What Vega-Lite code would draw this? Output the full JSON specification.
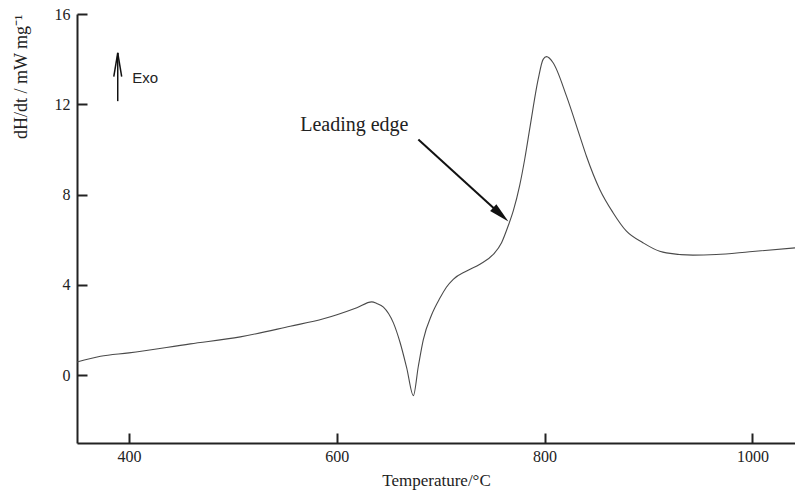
{
  "$schema": "https://vega.github.io/schema/vega-lite/v6.json",
  "width": 718,
  "height": 429,
  "autosize": {"type": "none"},
  "padding": {"left": 77, "top": 14, "right": 0, "bottom": 47},
  "background": "white",
  "config": {
    "view": {"stroke": null},
    "axis": {
      "grid": false,
      "domainColor": "#222",
      "domainWidth": 2,
      "tickColor": "#222",
      "tickWidth": 2,
      "tickSize": -10,
      "labelFont": "Liberation Serif",
      "labelFontSize": 16,
      "labelColor": "#222",
      "titleFont": "Liberation Serif",
      "titleFontSize": 17,
      "titleFontWeight": "normal",
      "titleColor": "#222"
    }
  },
  "datasets": {
    "curve": [
      {"T": 350, "v": 0.59}, {"T": 372.6, "v": 0.84}, {"T": 400, "v": 0.99},
      {"T": 459.1, "v": 1.39}, {"T": 507.2, "v": 1.70}, {"T": 555.2, "v": 2.17},
      {"T": 587.2, "v": 2.50}, {"T": 619.3, "v": 2.99}, {"T": 633.7, "v": 3.25},
      {"T": 638.5, "v": 3.18}, {"T": 644.9, "v": 3.02}, {"T": 654.5, "v": 2.32},
      {"T": 661.0, "v": 1.44}, {"T": 667.3, "v": 0.33}, {"T": 673.7, "v": -0.90},
      {"T": 678.5, "v": 0.40}, {"T": 683.3, "v": 1.58}, {"T": 691.4, "v": 2.69},
      {"T": 699.3, "v": 3.42}, {"T": 705.5, "v": 3.90}, {"T": 712.1, "v": 4.25},
      {"T": 725.0, "v": 4.62}, {"T": 737.8, "v": 4.92}, {"T": 750.6, "v": 5.35},
      {"T": 758.6, "v": 5.87}, {"T": 765.0, "v": 6.62}, {"T": 770.0, "v": 7.30},
      {"T": 776.0, "v": 8.40}, {"T": 781.0, "v": 9.60}, {"T": 786.0, "v": 11.00},
      {"T": 793.8, "v": 13.10}, {"T": 798.6, "v": 13.99},
      {"T": 801.9, "v": 14.11}, {"T": 808.2, "v": 13.84}, {"T": 821.1, "v": 12.36},
      {"T": 833.9, "v": 10.59}, {"T": 840.3, "v": 9.70},
      {"T": 853.1, "v": 8.23}, {"T": 865.9, "v": 7.20}, {"T": 878.8, "v": 6.38},
      {"T": 894.7, "v": 5.87}, {"T": 910.8, "v": 5.49}, {"T": 917.2, "v": 5.42},
      {"T": 942.8, "v": 5.32}, {"T": 965.3, "v": 5.35}, {"T": 997.3, "v": 5.47},
      {"T": 1041, "v": 5.64}
    ],
    "segments": [
      {"T": 389.2, "v": 12.14, "T2": 389.2, "v2": 14.28, "w": 1.5},
      {"T": 385.4, "v": 13.23, "T2": 389.2, "v2": 14.28, "w": 1.5},
      {"T": 393.0, "v": 13.23, "T2": 389.2, "v2": 14.28, "w": 1.5},
      {"T": 678.5, "v": 10.44, "T2": 757.0, "v2": 7.15, "w": 2}
    ],
    "heads": [{"T": 757.9, "v": 7.12}],
    "labelsSans": [{"T": 403.1, "v": 12.96, "label": "Exo"}],
    "labelsSerif": [{"T": 564.8, "v": 10.81, "label": "Leading edge"}]
  },
  "layer": [
    {
      "data": {"name": "curve"},
      "mark": {"type": "line", "interpolate": "monotone", "color": "#4a4a4a", "strokeWidth": 1.1},
      "encoding": {
        "x": {
          "field": "T", "type": "quantitative",
          "scale": {"domain": [350, 1041], "nice": false, "zero": false},
          "axis": {"title": "Temperature/°C", "values": [400, 600, 800, 1000], "format": "d", "labelPadding": 15, "titlePadding": 8}
        },
        "y": {
          "field": "v", "type": "quantitative",
          "scale": {"domain": [-3, 16], "nice": false, "zero": false},
          "axis": {"title": "dH/dt / mW mg⁻¹", "values": [0, 4, 8, 12, 16], "format": "d", "labelPadding": 17, "titleAnchor": "end", "titlePadding": 24, "titleFontSize": 18}
        }
      }
    },
    {
      "mark": {"type": "rule", "color": "#222", "strokeWidth": 2},
      "encoding": {"y": {"datum": 16, "type": "quantitative"}}
    },
    {
      "data": {"name": "segments"},
      "mark": {"type": "rule", "color": "#111"},
      "encoding": {
        "x": {"field": "T", "type": "quantitative"},
        "y": {"field": "v", "type": "quantitative"},
        "x2": {"field": "T2"},
        "y2": {"field": "v2"},
        "strokeWidth": {"field": "w", "type": "quantitative", "scale": null}
      }
    },
    {
      "data": {"name": "heads"},
      "mark": {"type": "point", "shape": "M0,-1L0.45,1L-0.45,1Z", "filled": true, "color": "#111", "opacity": 1, "size": 420, "angle": 132.3},
      "encoding": {
        "x": {"field": "T", "type": "quantitative"},
        "y": {"field": "v", "type": "quantitative"}
      }
    },
    {
      "data": {"name": "labelsSans"},
      "mark": {"type": "text", "font": "Liberation Sans", "fontSize": 15, "align": "left", "baseline": "alphabetic", "color": "#222"},
      "encoding": {
        "x": {"field": "T", "type": "quantitative"},
        "y": {"field": "v", "type": "quantitative"},
        "text": {"field": "label"}
      }
    },
    {
      "data": {"name": "labelsSerif"},
      "mark": {"type": "text", "font": "Liberation Serif", "fontSize": 20, "align": "left", "baseline": "alphabetic", "color": "#222"},
      "encoding": {
        "x": {"field": "T", "type": "quantitative"},
        "y": {"field": "v", "type": "quantitative"},
        "text": {"field": "label"}
      }
    }
  ]
}
